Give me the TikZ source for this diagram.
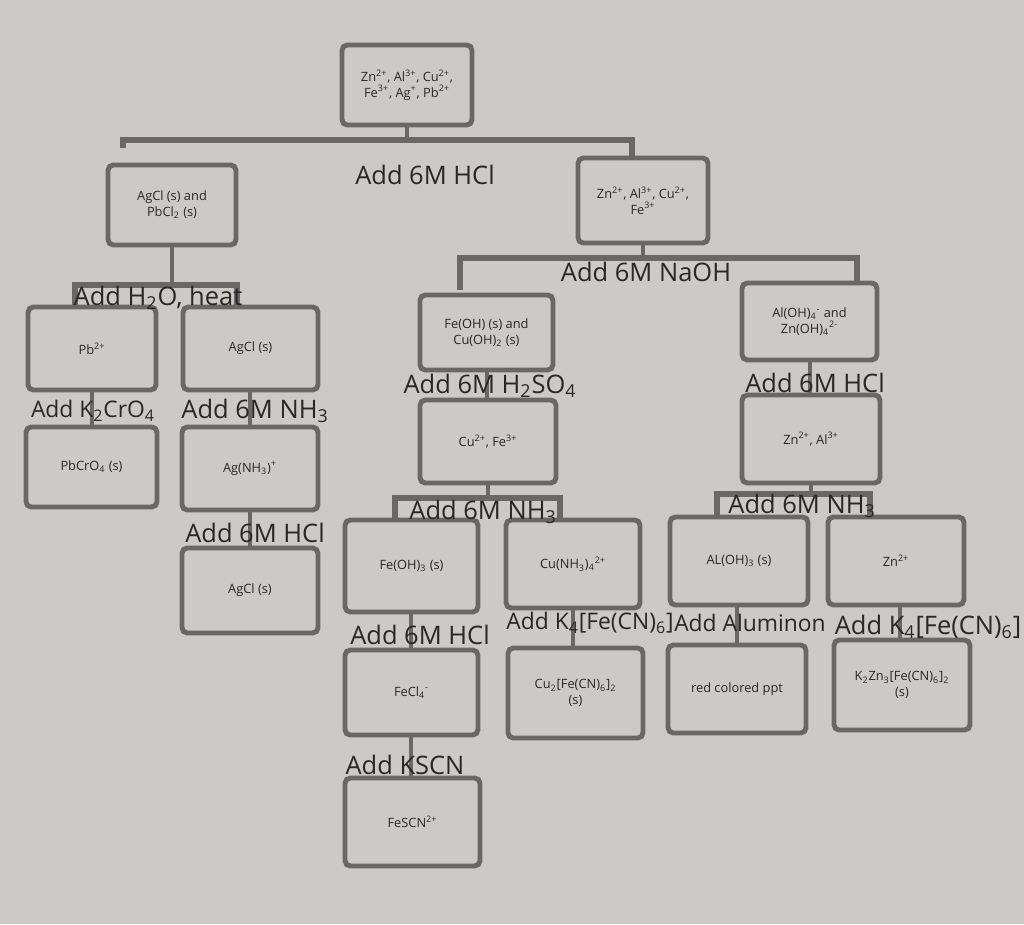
\documentclass[tikz,border=0pt]{standalone}
\usepackage{fontspec}
\setmainfont{Open Sans}
\newcommand\sub[1]{\textsubscript{#1}}
\newcommand\sps[1]{\textsuperscript{#1}}
\newcommand\bx[6]{\node[bx,minimum width={(#4-#2)*0.02cm},minimum height={(#5-#3)*0.02cm}] (#1) at ({(#2+#4)/2},{(#3+#5)/2}) {#6};}
\tikzset{
 bx/.style={draw=boxc,line width=2.8pt,rounded corners=3pt,fill=bgc,align=center,font=\fontsize{7.3}{9}\selectfont,inner sep=0pt},
 lab/.style={font=\fontsize{14.5}{16}\selectfont,inner sep=1pt},
 ln/.style={draw=boxc,line width=2.4pt},
 br/.style={draw=boxc,line width=3.4pt}
}
\definecolor{bgc}{RGB}{204,201,198}
\definecolor{boxc}{RGB}{105,104,103}
\definecolor{txc}{RGB}{40,40,40}
\begin{document}
\begin{tikzpicture}[x=0.02cm,y=-0.02cm,color=txc]
\fill[bgc] (0,0) rectangle (1024,924);
\useasboundingbox (0,0) rectangle (1024,924);
% connectors first
\draw[ln] (407,125) -- (407,140);
\draw[br] (123,148) -- (123,140) -- (632,140) -- (632,158);
\draw[ln] (172,245) -- (172,285);
\draw[br] (75,305) -- (75,285) -- (237,285) -- (237,305);
\draw[ln] (643,243) -- (643,258);
\draw[br] (460,290) -- (460,258) -- (857,258) -- (857,283);
\draw[ln] (92,390) -- (92,427);
\draw[ln] (250,390) -- (250,427);
\draw[ln] (250,510) -- (250,548);
\draw[ln] (487,370) -- (487,400);
\draw[ln] (810,360) -- (810,395);
\draw[ln] (488,483) -- (488,498);
\draw[br] (395,520) -- (395,498) -- (560,498) -- (560,520);
\draw[ln] (811,483) -- (811,494);
\draw[br] (717,517) -- (717,494) -- (870,494) -- (870,517);
\draw[ln] (411,612) -- (411,650);
\draw[ln] (573,608) -- (573,648);
\draw[ln] (737,605) -- (737,645);
\draw[ln] (900,605) -- (900,640);
\draw[ln] (411,735) -- (411,778);
% boxes
\bx{a}{342}{45}{472}{125}{Zn\sps{2+}, Al\sps{3+}, Cu\sps{2+},\\Fe\sps{3+}, Ag\sps{+}, Pb\sps{2+}}
\bx{b}{108}{165}{236}{245}{AgCl (s) and\\PbCl\sub{2} (s)}
\bx{c}{578}{158}{708}{243}{Zn\sps{2+}, Al\sps{3+}, Cu\sps{2+},\\Fe\sps{3+}}
\bx{d}{28}{307}{156}{390}{Pb\sps{2+}}
\bx{e}{183}{307}{318}{390}{AgCl (s)}
\bx{f}{26}{427}{157}{507}{PbCrO\sub{4} (s)}
\bx{g}{182}{427}{318}{510}{Ag(NH\sub{3})\sps{+}}
\bx{h}{182}{548}{318}{633}{AgCl (s)}
\bx{i}{420}{295}{553}{370}{Fe(OH) (s) and\\Cu(OH)\sub{2} (s)}
\bx{j}{742}{283}{877}{360}{Al(OH)\sub{4}\sps{-} and\\Zn(OH)\sub{4}\sps{2-}}
\bx{k}{420}{400}{556}{483}{Cu\sps{2+}, Fe\sps{3+}}
\bx{l}{742}{395}{880}{483}{Zn\sps{2+}, Al\sps{3+}}
\bx{m}{345}{520}{478}{612}{Fe(OH)\sub{3} (s)}
\bx{n}{506}{520}{640}{608}{Cu(NH\sub{3})\sub{4}\sps{2+}}
\bx{o}{670}{517}{808}{605}{AL(OH)\sub{3} (s)}
\bx{p}{828}{517}{964}{605}{Zn\sps{2+}}
\bx{q}{345}{650}{478}{735}{FeCl\sub{4}\sps{-}}
\bx{r}{508}{648}{643}{738}{Cu\sub{2}[Fe(CN)\sub{6}]\sub{2}\\(s)}
\bx{s}{668}{645}{806}{733}{red colored ppt}
\bx{t}{834}{640}{970}{730}{K\sub{2}Zn\sub{3}[Fe(CN)\sub{6}]\sub{2}\\(s)}
\bx{u}{345}{778}{480}{866}{FeSCN\sps{2+}}
% labels
\node[lab] (l1) at (425,175) {Add 6M HCl};
\node[lab] (l2) at (158,298) {Add H\sub{2}O, heat};
\node[lab] (l3) at (646,272) {Add 6M NaOH};
\node[lab,font=\fontsize{13}{15}\selectfont] (l4) at (93,411) {Add K\sub{2}CrO\sub{4}};
\node[lab] (l5) at (255,411) {Add 6M NH\sub{3}};
\node[lab] (l6) at (255,533) {Add 6M HCl};
\node[lab] (l7) at (490,386) {Add 6M H\sub{2}SO\sub{4}};
\node[lab] (l8) at (815,383) {Add 6M HCl};
\node[lab] (l9) at (483,512) {Add 6M NH\sub{3}};
\node[lab] (l10) at (802,506) {Add 6M NH\sub{3}};
\node[lab] (l11) at (420,635) {Add 6M HCl};
\node[lab,font=\fontsize{13}{15}\selectfont] (l12) at (590,623) {Add K\sub{4}[Fe(CN)\sub{6}]};
\node[lab,font=\fontsize{13}{15}\selectfont] (l13) at (750,623) {Add Aluminon};
\node[lab] (l14) at (928,627) {Add K\sub{4}[Fe(CN)\sub{6}]};
\node[lab] (l15) at (405,765) {Add KSCN};
\end{tikzpicture}
\end{document}
